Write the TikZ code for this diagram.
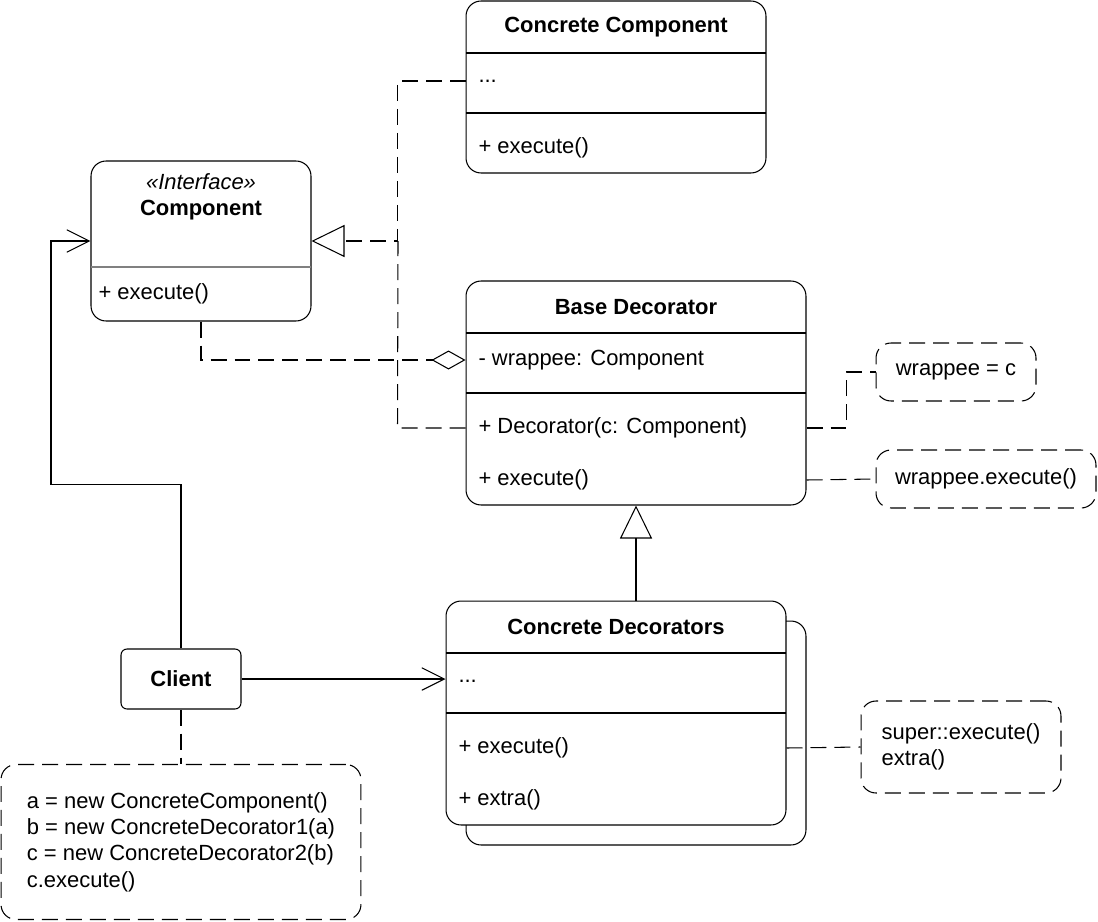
\documentclass[tikz,border=0pt]{standalone}
\usepackage{fontspec}
\setmainfont{Liberation Sans}
\usetikzlibrary{positioning,arrows.meta}

\begin{document}
\begin{tikzpicture} [
	x=0.02cm,y=-0.02cm,
	line width=0.6pt,
	font=\fontsize{12.5}{15}\selectfont,
	nclass/.style={
		rectangle,rounded corners=0.3cm,draw,fill=white,
		inner sep=0pt
	},
	nnote/.style={
		rectangle,rounded corners=0.3cm,draw,dashed,
		dash pattern=on 0.32cm off 0.16cm,inner sep=0pt
	},
	ntext/.style={anchor=west,inner sep=0pt},
	dline/.style={dash pattern=on 0.32cm off 0.16cm},
	realize/.style={dline,-{Triangle[open,length=0.66cm,width=0.64cm]}},
	inherit/.style={-{Triangle[open,length=0.66cm,width=0.64cm]}},
	assoc/.style={-{Straight Barb[length=0.45cm,width=0.45cm]}},
	aggr/.style={dline,-{Diamond[open,length=0.68cm,width=0.38cm]}}
]
\useasboundingbox (0,0) rectangle (1098,922);
% Component interface
\node [nclass,minimum width=4.4cm,minimum height=3.2cm] (comp) at (201,241) {};
\node [font=\fontsize{12.5}{15}\selectfont\itshape] (compst) at (201,182) {<<Interface>>};
\node [font=\fontsize{12.5}{15}\selectfont\bfseries] (compname) at (201,210) {Component};
\draw [gray] (91,267) -- (311,267);
\node [ntext] (compexec) at (98,294) {+ execute()};
% Concrete Component
\node [nclass,minimum width=6cm,minimum height=3.44cm] (cc) at (616,87) {};
\node [font=\fontsize{12.5}{15}\selectfont\bfseries] (ccname) at (616,27) {Concrete Component};
\draw (466,53) -- (766,53) (466,113) -- (766,113);
\node [ntext] (ccattr) at (478,81) {...};
\node [ntext] (ccexec) at (478,148) {+ execute()};
% Base Decorator
\node [nclass,minimum width=6.8cm,minimum height=4.48cm] (bd) at (636,393) {};
\node [font=\fontsize{12.5}{15}\selectfont\bfseries] (bdname) at (636,307) {Base Decorator};
\draw (466,333) -- (806,333) (466,393) -- (806,393);
\node [ntext] (bdattr) at (478,360) {- wrappee: Component};
\node [ntext] (bdctor) at (478,428) {+ Decorator(c: Component)};
\node [ntext] (bdexec) at (478,480) {+ execute()};
% Concrete Decorators (stacked)
\node [nclass,minimum width=6.8cm,minimum height=4.48cm] (cdback) at (636,733) {};
\node [nclass,minimum width=6.8cm,minimum height=4.48cm] (cd) at (616,713) {};
\node [font=\fontsize{12.5}{15}\selectfont\bfseries] (cdname) at (616,627) {Concrete Decorators};
\draw (446,653) -- (786,653) (446,713) -- (786,713);
\node [ntext] (cdattr) at (458,681) {...};
\node [ntext] (cdexec) at (458,748) {+ execute()};
\node [ntext] (cdextra) at (458,800) {+ extra()};
% Client
\node [nclass,rounded corners=0.12cm,minimum width=2.4cm,minimum height=1.2cm,
	font=\fontsize{12.5}{15}\selectfont\bfseries] (client) at (181,679) {Client};
% notes
\node [nnote,minimum width=3.2cm,minimum height=1.16cm] (note1) at (956,372) {wrappee = c};
\node [nnote,minimum width=4.4cm,minimum height=1.16cm] (note2) at (986,479) {wrappee.execute()};
\node [nnote,minimum width=4cm,minimum height=1.84cm,align=left] (note3) at (961,747)
	{super::execute()\\extra()};
\node [nnote,minimum width=7.2cm,minimum height=3.1cm,align=left] (note4) at (181,842)
	{a = new ConcreteComponent()\\b = new ConcreteDecorator1(a)\\c = new ConcreteDecorator2(b)\\c.execute()};
% connectors
\draw [realize] (ccattr.west -| cc.west) -- ++(-68,0) |- (comp.east);
\draw [dline] (bdctor.west -| bd.west) -- ++(-68,0) -- (398,241);
\draw [aggr] (comp.south) |- (bdattr.west -| bd.west);
\draw [inherit] (cd.north -| bd.south) -- (bd.south);
\draw [assoc] (client.north) -- ++(0,-164) -- ++(-130,0) |- (comp.west);
\draw [assoc] (client.east) -- (client.east -| cd.west);
\draw [dline] (client.south) -- (note4.north);
\draw [dline] (bdctor.west -| bd.east) -- ++(40,0) |- (note1.west);
\draw [dline] (bdexec.west -| bd.east) -- (note2.west);
\draw [dline] (cdexec.west -| cd.east) -- (note3.west);
\end{tikzpicture}
\end{document}
